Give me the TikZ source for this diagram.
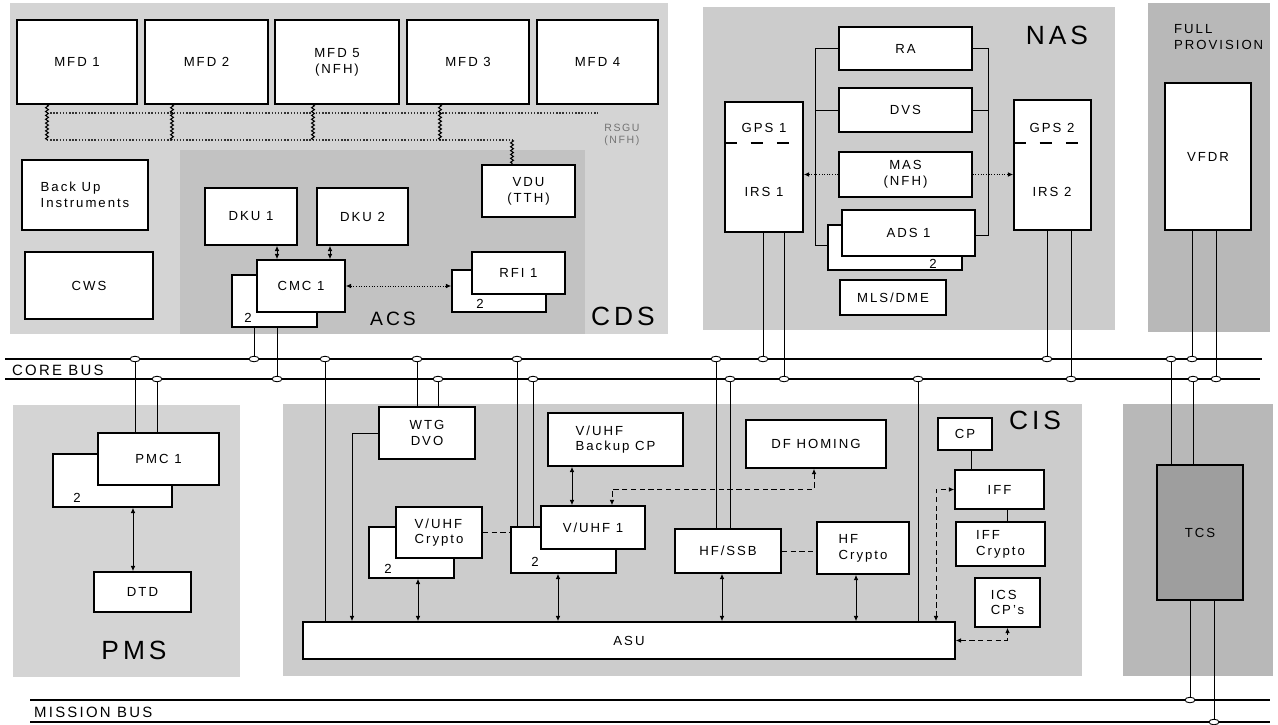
\documentclass[tikz,border=0pt]{standalone}
\usepackage{fontspec}
\setmainfont{Liberation Sans}[LetterSpace=15]
\usepackage{tikz}
\usetikzlibrary{arrows.meta,positioning,calc,shapes.geometric,decorations.pathmorphing}

\begin{document}
\begin{tikzpicture}[x=0.02cm,y=-0.02cm,
  every node/.style={font=\fontsize{7.5}{9}\selectfont},
  region/.style={fill=black!17},
  darkregion/.style={fill=black!28},
  box/.style={draw,line width=0.9pt,fill=white,inner sep=0pt,align=center},
  lbox/.style={box,align=left},
  wh/.style 2 args={minimum width=#1cm,minimum height=#2cm},
  tap/.style={ellipse,draw,fill=white,line width=0.5pt,minimum width=0.2cm,minimum height=0.11cm,inner sep=0pt},
  bus/.style={line width=0.9pt},
  link/.style={line width=0.5pt},
  dlink/.style={link,densely dashed},
  dotlink/.style={link,densely dotted},
  mfdline/.style={line width=0.8pt,densely dotted,black!80},
  wiggle/.style={line width=0.6pt,decorate,decoration={zigzag,amplitude=0.8pt,segment length=2.2pt}},
  onearrow/.style={-{Latex[length=3pt,width=2.6pt]}},
  twoarrow/.style={{Latex[length=3pt,width=2.6pt]}-{Latex[length=3pt,width=2.6pt]}},
  sysname/.style={font=\fontsize{15}{15}\selectfont},
  busname/.style={font=\fontsize{8.5}{9}\selectfont,anchor=west}]
  \useasboundingbox (0,0) rectangle (1278,724);

  % shaded system areas
  \fill[region] (10,3) rectangle (668,334);            % CDS
  \fill[black!24] (180,150) rectangle (585,334);       % ACS
  \fill[black!20] (703,7) rectangle (1115,330);        % NAS
  \fill[darkregion] (1148,3) rectangle (1270,332);     % full provision
  \fill[region] (13,405) rectangle (240,677);          % PMS
  \fill[black!20] (283,404) rectangle (1082,676);      % CIS
  \fill[darkregion] (1123,404) rectangle (1273,676);   % TCS

  % buses
  \draw[bus] (5,359) -- (1262,359);
  \draw[bus] (5,379) -- (1260,379);
  \draw[bus] (30,700) -- (1270,700);
  \draw[bus] (30,722) -- (1270,722);
  \node[busname] (corebus) at (6,370) {CORE BUS};
  \node[busname] (missionbus) at (28,712) {MISSION BUS};

  % CDS
  \node[box,wh={2.40}{1.68}] (mfd1) at (77,62) {MFD 1};
  \node[box,wh={2.46}{1.68}] (mfd2) at (206.5,62) {MFD 2};
  \node[box,wh={2.48}{1.68}] (mfd5) at (337,62) {MFD 5\\(NFH)};
  \node[box,wh={2.44}{1.68}] (mfd3) at (468,62) {MFD 3};
  \node[box,wh={2.42}{1.68}] (mfd4) at (597.5,62) {MFD 4};
  \node[lbox,wh={2.52}{1.40}] (backup) at (85,195) {Back Up\\Instruments};
  \node[box,wh={2.56}{1.34}] (cws) at (89,285.5) {CWS};
  \node[box,wh={1.84}{1.14}] (dku1) at (251,216.5) {DKU 1};
  \node[box,wh={1.82}{1.14}] (dku2) at (362.5,216.5) {DKU 2};
  \node[box,wh={1.86}{1.04}] (vdu) at (528.5,191) {VDU\\(TTH)};
  \node[box,wh={1.70}{1.04}] (cmcback) at (274.5,301) {};
  \node (cmctwo) at (248,318) {2};
  \node[box,wh={1.76}{1.04}] (cmc) at (301,286) {CMC 1};
  \node[box,wh={1.88}{0.84}] (rfiback) at (499,291) {};
  \node (rfitwo) at (480,304) {2};
  \node[box,wh={1.86}{0.84}] (rfi) at (518.5,273) {RFI 1};
  \node[font=\fontsize{11}{11}\selectfont] (acs) at (393,319) {ACS};
  \node[sysname] (cds) at (623,316) {CDS};
  \node[text=black!55,align=left,font=\fontsize{6}{7}\selectfont] (rsgu) at (622,135) {RSGU\\(NFH)};

  % MFD bus
  \coordinate (mt0) at (47,113);
  \coordinate (mt1) at (598,113);
  \coordinate (mb1) at (47,140);
  \coordinate (mb2) at (172,140);
  \coordinate (mb5) at (313,140);
  \coordinate (mb3) at (440,140);
  \coordinate (mbv) at (512,140);
  \draw[mfdline] (mt0) -- (mt1);
  \draw[mfdline] (mb1) -- (mbv);
  \foreach \m/\c in {mfd1/mb1,mfd2/mb2,mfd5/mb5,mfd3/mb3}
    \draw[wiggle] (\m.south -| \c) -- (\c);
  \draw[wiggle] (mbv) -- (vdu.north -| mbv);

  \coordinate (k1) at (277,0);
  \coordinate (k2) at (330,0);
  \draw[link,twoarrow] (k1 |- dku1.south) -- (k1 |- cmc.north);
  \draw[link,twoarrow] (k2 |- dku2.south) -- (k2 |- cmc.north);
  \draw[dotlink,twoarrow] (cmc.east) -- (rfiback.west |- cmc.east);

  % NAS
  \node[box,wh={2.66}{0.86}] (ra) at (905.5,48.5) {RA};
  \node[box,wh={2.66}{0.88}] (dvs) at (905.5,110) {DVS};
  \node[box,wh={2.66}{0.90}] (mas) at (905.5,174.5) {MAS\\(NFH)};
  \node[box,wh={2.68}{0.90}] (adsback) at (895,247.5) {};
  \node (adstwo) at (933,264) {2};
  \node[box,wh={2.66}{0.92}] (ads) at (908.5,233) {ADS 1};
  \node[box,wh={2.12}{0.70}] (mlsdme) at (893,297.5) {MLS/DME};
  \node[box,wh={1.56}{2.60}] (irs1) at (764,167) {};
  \node (gps1txt) at (764,128) {GPS 1};
  \node (irs1txt) at (764,192) {IRS 1};
  \node[box,wh={1.54}{2.60}] (irs2) at (1052.5,165) {};
  \node (gps2txt) at (1052,128) {GPS 2};
  \node (irs2txt) at (1052,192) {IRS 2};
  \coordinate (d1) at (0,143);
  \draw[line width=0.8pt,dash pattern=on 7pt off 8pt] (irs1.west |- d1) -- (irs1.east |- d1);
  \draw[line width=0.8pt,dash pattern=on 7pt off 8pt] (irs2.west |- d1) -- (irs2.east |- d1);
  \node[sysname] (nas) at (1057,35) {NAS};

  \coordinate (sl2) at (815,245);
  \coordinate (sr2) at (988,235);
  \draw[link] (ra.west) -| (sl2) -- (sl2 -| adsback.west);
  \draw[link] (dvs.west) -- (dvs.west -| sl2);
  \draw[link] (ra.east) -| (sr2) -- (sr2 -| ads.east);
  \draw[link] (dvs.east) -- (dvs.east -| sr2);
  \draw[dotlink,onearrow] (mas.west) -- (mas.west -| irs1.east);
  \draw[dotlink,onearrow] (mas.east) -- (mas.east -| irs2.west);

  % full provision
  \node[align=left,anchor=west] (fullprov) at (1168,37) {FULL\\PROVISION};
  \node[box,wh={1.72}{2.94}] (vfdr) at (1208,156.5) {VFDR};

  % PMS
  \node[box,wh={2.38}{1.06}] (pmcback) at (112.5,480.5) {};
  \node (pmctwo) at (77,498) {2};
  \node[box,wh={2.42}{1.04}] (pmc) at (158.5,459) {PMC 1};
  \node[box,wh={1.94}{0.80}] (dtd) at (142.5,592) {DTD};
  \node[sysname] (pms) at (134,650) {PMS};
  \coordinate (p1) at (133,0);
  \draw[link,twoarrow] (p1 |- pmcback.south) -- (p1 |- dtd.north);

  % CIS
  \node[box,wh={1.92}{1.04}] (wtg) at (427,433) {WTG\\DVO};
  \node[lbox,wh={2.70}{1.06}] (vuhfcp) at (615.5,439.5) {V/UHF\\Backup CP};
  \node[box,wh={2.80}{0.96}] (dfhoming) at (816,444) {DF HOMING};
  \node[box,wh={1.70}{1.02}] (cryptoback) at (411.5,552.5) {};
  \node (cryptotwo) at (388,569) {2};
  \node[lbox,wh={1.72}{1.02}] (crypto) at (439,532.5) {V/UHF\\Crypto};
  \node[box,wh={2.10}{0.92}] (vuhfback) at (563.5,550) {};
  \node (vuhftwo) at (535,562) {2};
  \node[box,wh={2.08}{0.86}] (vuhf) at (593,527.5) {V/UHF 1};
  \node[box,wh={2.12}{0.88}] (hfssb) at (728,551) {HF/SSB};
  \node[lbox,wh={1.84}{1.04}] (hfcrypto) at (863,548) {HF\\Crypto};
  \node[box,wh={1.08}{0.64}] (cp) at (965,434) {CP};
  \node[box,wh={1.78}{0.78}] (iff) at (999.5,489.5) {IFF};
  \node[lbox,wh={1.78}{0.88}] (iffcrypto) at (1000.5,544) {IFF\\Crypto};
  \node[lbox,wh={1.30}{0.98}] (icscp) at (1007.5,602.5) {ICS\\CP's};
  \node[box,wh={13.04}{0.74}] (asu) at (629,640.5) {ASU};
  \node[sysname] (cis) at (1035,420) {CIS};

  \coordinate (w1) at (352,0);
  \coordinate (v1) at (572,0);
  \coordinate (df1) at (814,489);
  \coordinate (df2) at (612,489);
  \coordinate (c1) at (418,0);
  \coordinate (c2) at (558,0);
  \coordinate (c3) at (722,0);
  \coordinate (c4) at (856,0);
  \coordinate (c5) at (936,0);
  \coordinate (c6) at (971,0);
  \coordinate (c7) at (1007,0);
  \draw[link,onearrow] (wtg.west) -| (w1 |- asu.north);
  \draw[link,twoarrow] (v1 |- vuhfcp.south) -- (v1 |- vuhf.north);
  \draw[dlink,twoarrow] (df1 |- dfhoming.south) -- (df1) -- (df2) -- (df2 |- vuhf.north);
  \draw[dlink] (crypto.east) -- (crypto.east -| vuhfback.west);
  \draw[link,twoarrow] (c1 |- cryptoback.south) -- (c1 |- asu.north);
  \draw[link,twoarrow] (c2 |- vuhfback.south) -- (c2 |- asu.north);
  \draw[dlink] (hfssb.east) -- (hfssb.east -| hfcrypto.west);
  \draw[link,twoarrow] (c3 |- hfssb.south) -- (c3 |- asu.north);
  \draw[link,twoarrow] (c4 |- hfcrypto.south) -- (c4 |- asu.north);
  \draw[dlink,twoarrow] (c5 |- asu.north) |- (iff.west);
  \draw[link] (c6 |- cp.south) -- (c6 |- iff.north);
  \draw[link] (c7 |- iff.south) -- (c7 |- iffcrypto.north);
  \draw[dlink,twoarrow] (asu.east) -| (icscp.south);

  % TCS
  \node[box,fill=black!38,wh={1.72}{2.70}] (tcs) at (1200,532.5) {TCS};

  % bus taps
  \foreach \n/\x in {a/135,b/254,c/325,d/417,e/517,f/716,g/763,h/1047,i/1171,j/1192}
    \node[tap] (u\n) at (\x,359) {};
  \foreach \n/\x in {a/157,b/277,c/438,d/533,e/730,f/784,g/918,h/1071,i/1193,j/1216}
    \node[tap] (l\n) at (\x,379) {};
  \node[tap] (ma) at (1190,700) {};
  \node[tap] (mb) at (1214,722) {};

  \foreach \t/\b in {ua/pmc.north,la/pmc.north,ub/cmcback.south,lb/cmcback.south,
      uc/asu.north,ud/wtg.north,lc/wtg.north,ue/vuhfback.north,ld/vuhfback.north,
      uf/hfssb.north,le/hfssb.north,ug/irs1.south,lf/irs1.south,lg/asu.north,
      uh/irs2.south,lh/irs2.south,ui/tcs.north,li/tcs.north,uj/vfdr.south,lj/vfdr.south,
      ma/tcs.south,mb/tcs.south}
    \draw[link] (\t) -- (\t |- \b);
\end{tikzpicture}
\end{document}
